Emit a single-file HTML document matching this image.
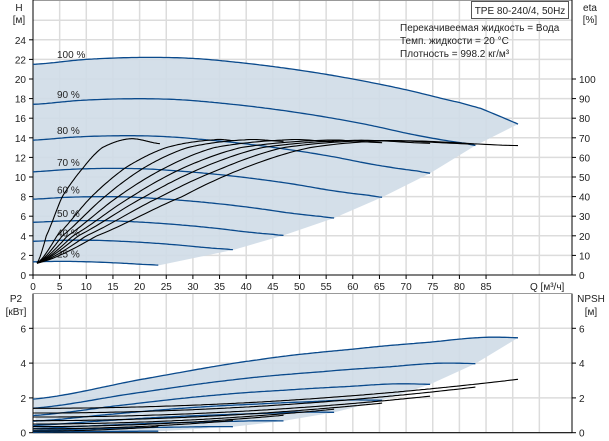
<!DOCTYPE html>
<html><head><meta charset="utf-8"><style>
body{margin:0;background:#fff;}
svg{display:block;font-family:"Liberation Sans",sans-serif;font-size:10px;}
</style></head><body>
<svg id="c" width="609" height="441" xmlns="http://www.w3.org/2000/svg"></svg>
<script>
// ---- data ----
const speeds = [100, 90, 80, 70, 60, 50, 40, 25];
const speedLabels = ["100 %", "90 %", "80 %", "70 %", "60 %", "50 %", "40 %", "25 %"];
const speedEndQ = [91, 83, 74.5, 65.5, 56.5, 47, 37.7, 23.8];
const baseQ = [0, 10, 20, 30, 40, 50, 60, 70, 80, 90, 95];
const baseH = [21.5, 22.0, 22.2, 22.1, 21.6, 20.9, 20.0, 18.9, 17.6, 16.6, 16.1];
const tail100Q = [80, 84, 88, 91];
const tail100H = [17.6, 17.0, 16.1, 15.4];
const etaLevels = [6, 20, 40, 55, 65];
const etaQ = [
  [0.75, 12, 28, 40, 52],
  [0.75, 10, 24, 36, 47],
  [0.75, 8.5, 21, 32, 43],
  [0.75, 7.5, 18.5, 28.5, 39],
  [0.75, 6.5, 16, 25, 34],
  [0.75, 5.5, 13.5, 21, 29],
  [0.75, 4.5, 11, 17.5, 25],
  [0.75, 2.5, 5.5, 9.5, 13]
];
const etaPeakQ = [68, 64, 60, 55, 48, 40, 34, 18.2];
const etaPeakV = [68.5, 68.6, 68.7, 68.8, 69, 69, 69, 69.5];
const etaEndV = [66, 66.8, 67.2, 67.5, 68, 68.2, 68.6, 67];
const p2BaseQ = [0, 21, 42, 60, 74.5, 84.8, 95];
const p2BaseP = [1.93, 3.1, 4.18, 4.8, 5.2, 5.48, 5.42];
const npshStart = [1.4, 1.13, 0.9, 0.69, 0.5, 0.35, 0.22, 0.09];
const npshEnd = [3.07, 2.62, 2.1, 1.7, 1.35, 1.0, 0.7, 0.35];
const xTicks = [0,5,10,15,20,25,30,35,40,45,50,55,60,65,70,75,80,85];
const hTicks = [0,2,4,6,8,10,12,14,16,18,20,22,24];
const etaTicks = [0,10,20,30,40,50,60,70,80,90,100];
const pTicks = [0,2,4,6];

// ---- axes ----
const X0=33, XR=572;
const xs = q => X0 + q*5.33;
const yH = h => 275 - h*9.8;
const yEta = e => yH(e/5);
const yP = p => 432.7 - p*17.4;

const svg=document.getElementById('c');
const NS="http://www.w3.org/2000/svg";
function mk(tag, attrs, parent){const e=document.createElementNS(NS,tag);for(const k in attrs)e.setAttribute(k,attrs[k]);(parent||svg).appendChild(e);return e;}
function txt(x,y,s,anchor,name){const t=mk('text',{x:x,y:y,'text-anchor':anchor||'start',fill:'#222'});t.textContent=s;


return t;}
function interp(xa,ya,x){if(x<=xa[0])return ya[0];for(let i=1;i<xa.length;i++){if(x<=xa[i]){const t=(x-xa[i-1])/(xa[i]-xa[i-1]);return ya[i-1]+t*(ya[i]-ya[i-1]);}}const n=xa.length;return ya[n-1]+(x-xa[n-1])*(ya[n-1]-ya[n-2])/(xa[n-1]-xa[n-2]);}
// smooth-ish with monotone cubic via catmull-rom sampling
function cr(xa,ya,x){let i=1;while(i<xa.length-1&&x>xa[i])i++;const i0=Math.max(0,i-2),i1=i-1,i2=i,i3=Math.min(xa.length-1,i+1);
const t=(x-xa[i1])/(xa[i2]-xa[i1]);const p0=ya[i0],p1=ya[i1],p2=ya[i2],p3=ya[i3];
return 0.5*((2*p1)+(-p0+p2)*t+(2*p0-5*p1+4*p2-p3)*t*t+(-p0+3*p1-3*p2+p3)*t*t*t);}
function headAt(i,q){const n=speeds[i]/100;if(i===0&&q>=tail100Q[0])return interp(tail100Q,tail100H,q);return n*n*cr(baseQ,baseH,q/n);}
function p2At(i,q){const n=speeds[i]/100;return n*n*n*cr(p2BaseQ,p2BaseP,q/n);}

// ---- frames / grid ----
const grid=mk('g',{stroke:'#dcdcdc','stroke-width':1.5});


for(let q=5;q<=95;q+=5){mk('line',{x1:xs(q),x2:xs(q),y1:1,y2:275},grid);mk('line',{x1:xs(q),x2:xs(q),y1:294,y2:432},grid);}
for(let h=2;h<=26;h+=2)mk('line',{x1:X0,x2:XR,y1:yH(h),y2:yH(h)},grid);
for(const p of [2,4,6])mk('line',{x1:X0,x2:XR,y1:yP(p),y2:yP(p)},grid);
mk('rect',{x:X0,y:0.5,width:XR-X0,height:274.5,fill:'none',stroke:'#999'});
mk('rect',{x:X0,y:293.5,width:XR-X0,height:139,fill:'none',stroke:'#999'});

// ---- shading top ----
let pts=[];
for(let q=0;q<=speedEndQ[0];q+=1)pts.push([xs(q),yH(headAt(0,q))]);
for(let i=0;i<speeds.length;i++)pts.push([xs(speedEndQ[i]),yH(headAt(i,speedEndQ[i]))]);
const last=speeds.length-1;
for(let q=speedEndQ[last];q>=0;q-=1)pts.push([xs(q),yH(headAt(last,q))]);
pts.push([xs(0),yH(headAt(last,0))]);
let sh=mk('polygon',{points:pts.map(p=>p.join(',')).join(' '),fill:'#cfdbe7',opacity:0.9});


// ---- shading bottom ----
pts=[];
for(let q=0;q<=speedEndQ[0];q+=1)pts.push([xs(q),yP(p2At(0,q))]);
for(let i=0;i<speeds.length;i++)pts.push([xs(speedEndQ[i]),yP(p2At(i,speedEndQ[i]))]);
for(let q=speedEndQ[last];q>=0;q-=1)pts.push([xs(q),yP(p2At(last,q))]);
sh=mk('polygon',{points:pts.map(p=>p.join(',')).join(' '),fill:'#cfdbe7',opacity:0.9});



// ---- axis lines ----
mk('line',{x1:X0,x2:X0,y1:0,y2:275,stroke:'#000'});
mk('line',{x1:XR,x2:XR,y1:0,y2:275,stroke:'#000'});
mk('line',{x1:X0,x2:XR+3,y1:275,y2:275,stroke:'#000'});
mk('line',{x1:X0,x2:X0,y1:294,y2:433,stroke:'#000'});
mk('line',{x1:XR,x2:XR,y1:294,y2:433,stroke:'#000'});
mk('line',{x1:X0,x2:XR,y1:432.7,y2:432.7,stroke:'#000'});

// ---- H curves ----
speeds.forEach((s,i)=>{let d='';for(let q=0;q<=speedEndQ[i]+0.01;q+=0.5){const qq=Math.min(q,speedEndQ[i]);d+=(d?'L':'M')+xs(qq).toFixed(1)+','+yH(headAt(i,qq)).toFixed(1);}
const p=mk('path',{d:d,fill:'none',stroke:'#0a4a8c','stroke-width':1.3});


txt(xs(4.5),yH(headAt(i,5))-4,speedLabels[i],'start','speed-label-'+s);
});
// ---- eta curves ----
speeds.forEach((s,i)=>{const qa=etaQ[i].concat([etaPeakQ[i],speedEndQ[i]]);const va=etaLevels.concat([etaPeakV[i],etaEndV[i]]);
let d='';for(let k=0;k<=120;k++){const q=qa[0]+(qa[qa.length-1]-qa[0])*k/120;const v=cr(qa,va,q);d+=(d?'L':'M')+xs(q).toFixed(1)+','+yEta(v).toFixed(1);}
const p=mk('path',{d:d,fill:'none',stroke:'#000','stroke-width':1.1});

});
// ---- P2 curves ----
speeds.forEach((s,i)=>{let d='';for(let q=0;q<=speedEndQ[i]+0.01;q+=0.5){const qq=Math.min(q,speedEndQ[i]);d+=(d?'L':'M')+xs(qq).toFixed(1)+','+yP(p2At(i,qq)).toFixed(1);}
const p=mk('path',{d:d,fill:'none',stroke:'#0a4a8c','stroke-width':1.3});

});
// ---- NPSH curves ----
speeds.forEach((s,i)=>{let d='';for(let q=0;q<=speedEndQ[i]+0.01;q+=0.5){const qq=Math.min(q,speedEndQ[i]);const u=qq/speedEndQ[i];const v=npshStart[i]+(npshEnd[i]-npshStart[i])*u*u;d+=(d?'L':'M')+xs(qq).toFixed(1)+','+yP(v).toFixed(1);}
const p=mk('path',{d:d,fill:'none',stroke:'#000','stroke-width':1.1});

});

// ---- ticks & labels ----
xTicks.forEach(q=>{mk('line',{x1:xs(q),x2:xs(q),y1:275,y2:279,stroke:'#000'});txt(xs(q),290,String(q),'middle','x-tick-label');});
hTicks.forEach(h=>{mk('line',{x1:X0-4,x2:X0,y1:yH(h),y2:yH(h),stroke:'#000'});txt(X0-7,yH(h)+4,String(h),'end','h-tick-label');});
etaTicks.forEach(e=>{mk('line',{x1:XR,x2:XR+4,y1:yEta(e),y2:yEta(e),stroke:'#000'});txt(XR+7,yEta(e)+4,String(e),'start','eta-tick-label');});
pTicks.forEach(p=>{mk('line',{x1:X0-4,x2:X0,y1:yP(p),y2:yP(p),stroke:'#000'});txt(X0-7,yP(p)+4,String(p),'end','p2-tick-label');
mk('line',{x1:XR,x2:XR+4,y1:yP(p),y2:yP(p),stroke:'#000'});txt(XR+7,yP(p)+4,String(p),'start','npsh-tick-label');});
txt(19,11,'H','middle','h-axis-title');txt(19,23,'[м]','middle','h-axis-unit');
txt(590,11,'eta','middle','eta-axis-title');txt(590,23,'[%]','middle','eta-axis-unit');
txt(530,290,'Q [м³/ч]','start','x-axis-title');
txt(16,302,'P2','middle','p2-axis-title');txt(16,315,'[кВт]','middle','p2-axis-unit');
txt(591,302,'NPSH','middle','npsh-axis-title');txt(591,315,'[м]','middle','npsh-axis-unit');
const tb=mk('rect',{x:471.5,y:1.5,width:97,height:17,fill:'#fff',stroke:'#555'});


txt(520,14,'TPE 80-240/4, 50Hz','middle','chart-title');
txt(400,31,'Перекачивеемая жидкость = Вода','start','info-liquid');
txt(400,44,'Темп. жидкости = 20 °C','start','info-temp');
txt(400,57,'Плотность = 998.2 кг/м³','start','info-density');
</script>
</body></html>
